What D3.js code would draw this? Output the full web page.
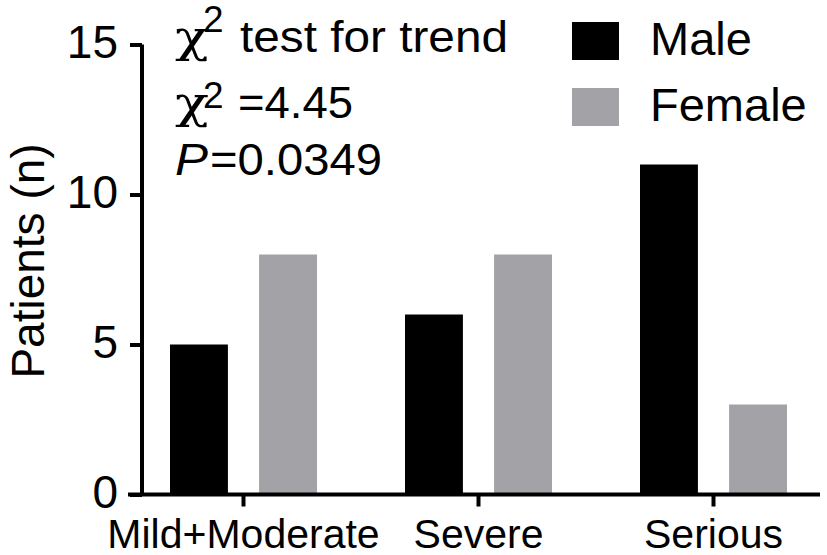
<!DOCTYPE html>
<html>
<head>
<meta charset="utf-8">
<script src="https://cdn.jsdelivr.net/npm/d3@7"></script>
<style>
  html, body { margin: 0; padding: 0; background: #fff; }
  svg { display: block; font-family: "Liberation Sans", Arial, sans-serif; }
</style>
</head>
<body>
<svg id="chart" width="827" height="555"></svg>
<script>
const categories = ["Mild+Moderate", "Severe", "Serious"];
const seriesNames = ["Male", "Female"];
const maleValues = [5, 6, 11];
const femaleValues = [8, 8, 3];
const yTicks = [0, 5, 10, 15];
const colors = { Male: "#000000", Female: "#a3a2a7" };

const data = categories.map((c, i) => ({ category: c, Male: maleValues[i], Female: femaleValues[i] }));

const svg = d3.select("#chart");

const y = d3.scaleLinear().domain([0, 15]).range([494.5, 44.5]);
const x = d3.scalePoint().domain(categories).range([243, 713]);
const xInner = d3.scaleBand().domain(seriesNames).range([-73, 74]).paddingInner(0.35).paddingOuter(0);

// Bars
const groups = svg.append("g").selectAll("g").data(data).join("g")
  .attr("transform", d => `translate(${x(d.category)},0)`);
groups.selectAll("rect").data(d => seriesNames.map(s => ({ s, v: d[s] }))).join("rect")
  .attr("x", d => xInner(d.s))
  .attr("width", xInner.bandwidth())
  .attr("y", d => y(d.v))
  .attr("height", d => y(0) - y(d.v))
  .attr("fill", d => colors[d.s]);

// Y axis
const yAxis = svg.append("g").attr("transform", "translate(142,0)")
  .call(d3.axisLeft(y).tickValues(yTicks).tickSize(12).tickPadding(12).tickSizeOuter(0));
yAxis.select(".domain").attr("stroke-width", 4).attr("d", `M0,${y(15)}V${y(0)}`);
yAxis.selectAll(".tick line").attr("stroke-width", 4);
yAxis.selectAll(".tick text").attr("font-size", 46).attr("fill", "#000").attr("dy", "0.28em")
  .attr("font-family", "Liberation Sans, Arial, sans-serif");

// X axis
const xAxis = svg.append("g").attr("transform", `translate(0,${y(0)})`)
  .call(d3.axisBottom(x).tickSize(12).tickPadding(8).tickSizeOuter(0));
xAxis.select(".domain").attr("stroke-width", 4).attr("d", "M128,0H820");
xAxis.selectAll(".tick line").attr("stroke-width", 4);
xAxis.selectAll(".tick text").attr("font-size", 41).attr("fill", "#000")
  .attr("y", 0).attr("dy", 0).attr("transform", "translate(0,53)")
  .attr("font-family", "Liberation Sans, Arial, sans-serif");

// Y axis title
svg.append("text")
  .attr("transform", "translate(44,261) rotate(-90)")
  .attr("text-anchor", "middle")
  .attr("font-size", 46)
  .text("Patients (n)");

// Annotation
const chiFont = "DejaVu Serif, serif";
const ann = svg.append("g").attr("font-size", 44).attr("fill", "#000");
ann.append("text").attr("x", 175).attr("y", 52).attr("font-size", 44).attr("font-family", chiFont).attr("textLength", 34).attr("lengthAdjust", "spacingAndGlyphs").text("χ");
ann.append("text").attr("x", 203).attr("y", 32).attr("font-size", 37).text("2");
ann.append("text").attr("x", 240).attr("y", 52).attr("textLength", 268).attr("lengthAdjust", "spacingAndGlyphs").text("test for trend");

ann.append("text").attr("x", 175).attr("y", 118).attr("font-size", 44).attr("font-family", chiFont).attr("textLength", 34).attr("lengthAdjust", "spacingAndGlyphs").text("χ");
ann.append("text").attr("x", 203).attr("y", 108).attr("font-size", 37).text("2");
ann.append("text").attr("x", 238).attr("y", 118).attr("textLength", 115).attr("lengthAdjust", "spacingAndGlyphs").text("=4.45");

ann.append("text").attr("x", 175).attr("y", 175).attr("font-style", "italic").attr("textLength", 33).attr("lengthAdjust", "spacingAndGlyphs").text("P");
ann.append("text").attr("x", 210).attr("y", 175).attr("textLength", 172).attr("lengthAdjust", "spacingAndGlyphs").text("=0.0349");

// Legend
const legend = svg.append("g");
const legendY = [22, 88];
seriesNames.forEach((s, i) => {
  legend.append("rect").attr("x", 572).attr("y", legendY[i]).attr("width", 47).attr("height", 38).attr("fill", colors[s]);
  legend.append("text").attr("x", 650).attr("y", legendY[i] + 33).attr("font-size", 47).text(s);
});
</script>
</body>
</html>
